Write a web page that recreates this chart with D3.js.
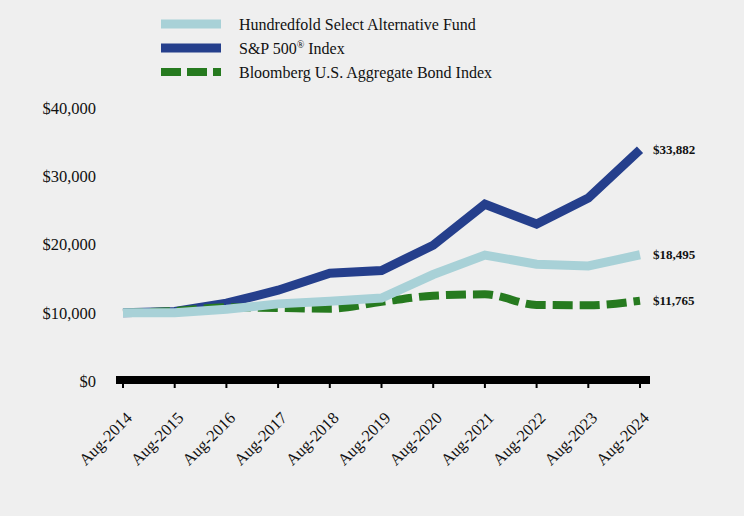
<!DOCTYPE html>
<html><head><meta charset="utf-8">
<script src="https://cdn.jsdelivr.net/npm/d3@7"></script>
<style>
html,body{margin:0;padding:0;background:#efefef;}
svg{display:block;font-family:"Liberation Serif","Times New Roman",serif;}
</style></head>
<body><svg id="c" width="744" height="516"></svg>
<script>
const years = ["Aug-2014","Aug-2015","Aug-2016","Aug-2017","Aug-2018","Aug-2019","Aug-2020","Aug-2021","Aug-2022","Aug-2023","Aug-2024"];
const fund = [10000,10000,10500,11300,11700,12150,15600,18450,17100,16850,18495];
const sp500 = [10000,10200,11400,13300,15800,16200,19900,25900,23000,26800,33882];
const bond = [10000,10250,10800,10700,10600,11600,12500,12700,11150,11100,11765];
const yTicks = [0,10000,20000,30000,40000];
const endLabels = ["$18,495","$33,882","$11,765"];

const svg = d3.select("#c");
const x = d3.scalePoint().domain(years).range([123,640]);
const y = d3.scaleLinear().domain([0,40000]).range([381,108]);

// y labels
svg.append("g").selectAll("text").data(yTicks).join("text")
  .attr("x",96).attr("y",d=>y(d)).attr("dy","0.35em").attr("text-anchor","end")
  .attr("font-size",16.5).attr("fill","#111")
  .text(d=>"$"+d3.format(",")(d));

// lines
const line = d3.line().x((d,i)=>x(years[i])).y(d=>y(d));
const smooth = d3.line().x((d,i)=>x(years[i])).y(d=>y(d)).curve(d3.curveMonotoneX);
svg.append("path").datum(sp500).attr("d",line).attr("fill","none")
  .attr("stroke","#253f8c").attr("stroke-width",9).attr("stroke-linejoin","miter");
svg.append("path").datum(bond).attr("d",smooth).attr("fill","none")
  .attr("stroke","#267a1f").attr("stroke-width",8).attr("stroke-dasharray","20,7");
svg.append("path").datum(fund).attr("d",line).attr("fill","none")
  .attr("stroke","#a8d1d7").attr("stroke-width",9).attr("stroke-linejoin","miter");

// x axis
const xa = svg.append("g").attr("transform","translate(0,380)");
xa.append("line").attr("x1",116).attr("x2",650).attr("y1",0).attr("y2",0)
  .attr("stroke","#000").attr("stroke-width",8);
xa.selectAll("line.t").data(years).join("line").attr("class","t")
  .attr("x1",d=>x(d)).attr("x2",d=>x(d)).attr("y1",0).attr("y2",8)
  .attr("stroke","#000").attr("stroke-width",2);
xa.selectAll("text").data(years).join("text")
  .attr("transform",d=>`translate(${x(d)+10},${39}) rotate(-45)`)
  .attr("text-anchor","end").attr("font-size",16.5).attr("fill","#111")
  .text(d=>d);

// end labels
const ends = [fund, sp500, bond];
svg.append("g").selectAll("text").data(ends).join("text")
  .attr("x",653).attr("y",d=>y(d[d.length-1])).attr("dy","0.35em")
  .attr("font-size",13).attr("font-weight","bold").attr("fill","#111")
  .text((d,i)=>endLabels[i]);

// legend
const leg = [
  {name:"Hundredfold Select Alternative Fund", color:"#a8d1d7", dash:null, w:9},
  {name:"S&P 500", sup:"®", suffix:" Index", color:"#253f8c", dash:null, w:9},
  {name:"Bloomberg U.S. Aggregate Bond Index", color:"#267a1f", dash:"20,6", w:8}
];
const lg = svg.append("g");
leg.forEach((d,i)=>{
  const yy = 24 + i*24;
  lg.append("line").attr("x1",161).attr("x2",221).attr("y1",yy).attr("y2",yy)
    .attr("stroke",d.color).attr("stroke-width",d.w).attr("stroke-dasharray",d.dash);
  const t = lg.append("text").attr("x",239).attr("y",yy+5.5)
    .attr("font-size",16).attr("fill","#111");
  t.append("tspan").text(d.name);
  if(d.sup){
    t.append("tspan").attr("font-size",10).attr("dy",-6).text(d.sup);
    t.append("tspan").attr("dy",6).attr("font-size",16).text(d.suffix);
  }
});
</script></body></html>
